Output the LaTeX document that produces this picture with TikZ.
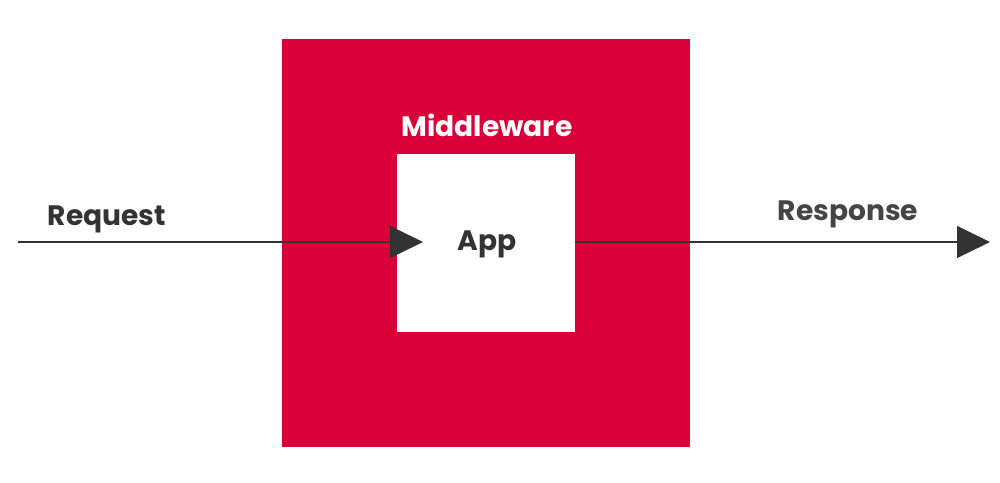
\documentclass[tikz,border=0pt]{standalone}
\usepackage{fontspec}
\setmainfont{Poppins}
\usetikzlibrary{arrows.meta}
\definecolor{mwred}{HTML}{D9003A}
\definecolor{ink}{HTML}{333333}
\definecolor{inklight}{HTML}{454545}
\begin{document}
\begin{tikzpicture}[x=0.02cm,y=-0.02cm,
  box/.style={draw=none,inner sep=0pt,outer sep=0pt},
  lbl/.style={font=\fontsize{16}{19}\selectfont\bfseries,inner sep=0pt},
  flow/.style={draw=ink,line width=0.7pt,-{Triangle[length=0.66cm,width=0.64cm]}}]
\useasboundingbox[fill=white] (0,0) rectangle (1000,483);
% outer middleware block and inner app block
\node[box,fill=mwred,minimum width=8.16cm,minimum height=8.16cm] (mw) at (486,243) {};
\node[box,fill=white,minimum width=3.56cm,minimum height=3.56cm] (app) at (486,243) {};
\coordinate (start) at (18,242);
\coordinate (finish) at (990,242);
% request flowing in, response flowing out
\draw[flow] (start) -- ([xshift=0.52cm]app.west |- start);
\draw[flow] (app.east |- start) -- (finish);
% labels
\node[lbl,text=white] (mwlabel) at (487,125) {Middleware};
\node[lbl,text=ink] (applabel) at (487,244) {App};
\node[lbl,text=ink] (req) at (107,219) {Request};
\node[lbl,text=inklight] (resp) at (848,214) {Response};
\end{tikzpicture}
\end{document}
